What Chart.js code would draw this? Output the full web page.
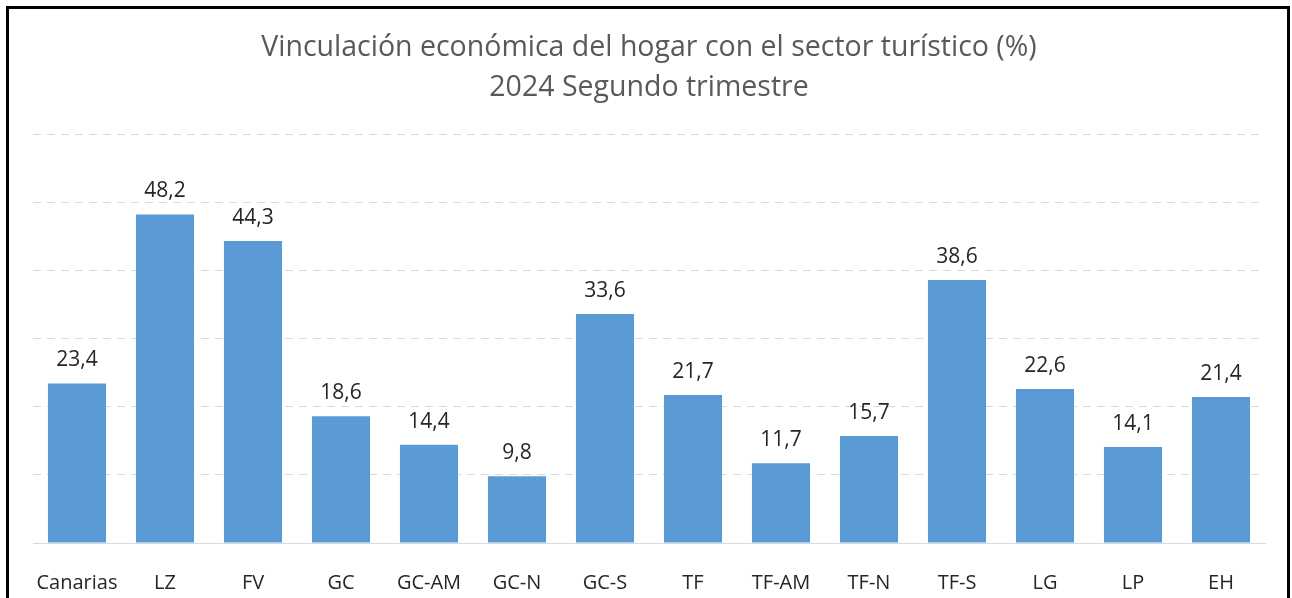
<!DOCTYPE html>
<html><head><meta charset="utf-8">
<script src="https://cdn.jsdelivr.net/npm/chart.js@4.4.1/dist/chart.umd.min.js"></script>
<style>
html,body{margin:0;padding:0;background:#fff;overflow:hidden;}
#wrap{position:relative;width:1292px;height:598px;}
#frame{position:absolute;left:6px;top:6px;width:1284px;height:700px;border:3px solid #000;box-sizing:border-box;pointer-events:none;}
canvas{position:absolute;left:0;top:0;}
</style></head>
<body><div id="wrap"><canvas id="c" width="1292" height="598"></canvas><div id="frame"></div></div>
<script>
const categories = ["Canarias","LZ","FV","GC","GC-AM","GC-N","GC-S","TF","TF-AM","TF-N","TF-S","LG","LP","EH"];
const values = [23.4,48.2,44.3,18.6,14.4,9.8,33.6,21.7,11.7,15.7,38.6,22.6,14.1,21.4];
const titleLines = ["Vinculación económica del hogar con el sector turístico (%)","2024 Segundo trimestre"];
const FONT = "'Open Sans', 'Noto Sans', sans-serif";

const labelPlugin = {
  id:'vlabels',
  afterDatasetsDraw(chart){
    const ctx = chart.ctx;
    const meta = chart.getDatasetMeta(0);
    ctx.save();
    ctx.font = "21px " + FONT;
    ctx.fillStyle = "#262626";
    ctx.textAlign = "center";
    ctx.textBaseline = "middle";
    meta.data.forEach((bar,i)=>{
      ctx.fillText(values[i].toFixed(1).replace('.',','), bar.x, bar.y - 23);
    });
    ctx.restore();
  }
};

new Chart(document.getElementById('c'),{
  type:'bar',
  data:{labels:categories,datasets:[{data:values,backgroundColor:'#5B9BD5',borderWidth:0,categoryPercentage:1,barPercentage:0.66}]},
  options:{
    responsive:false,animation:false,
    layout:{padding:{left:33,right:27,top:0,bottom:0}},
    plugins:{
      legend:{display:false},tooltip:{enabled:false},
      title:{display:true,text:titleLines,color:'#595959',font:{family:FONT,size:28.5,weight:'normal',lineHeight:'40px'},padding:{top:28,bottom:26}}
    },
    scales:{
      x:{grid:{display:false},border:{display:true,color:'#d9d9d9',width:1},
         ticks:{color:'#262626',font:{family:FONT,size:20},padding:20,maxRotation:0,autoSkip:false},
         afterFit(s){s.height=55;}},
      y:{min:0,max:60,ticks:{display:false,stepSize:10},
         grid:{color:'#d9d9d9',lineWidth:1,drawTicks:false},
         border:{display:false,dash:[8,6]},
         afterFit(s){s.width=0;}}
    }
  },
  plugins:[labelPlugin]
});
</script></body></html>
